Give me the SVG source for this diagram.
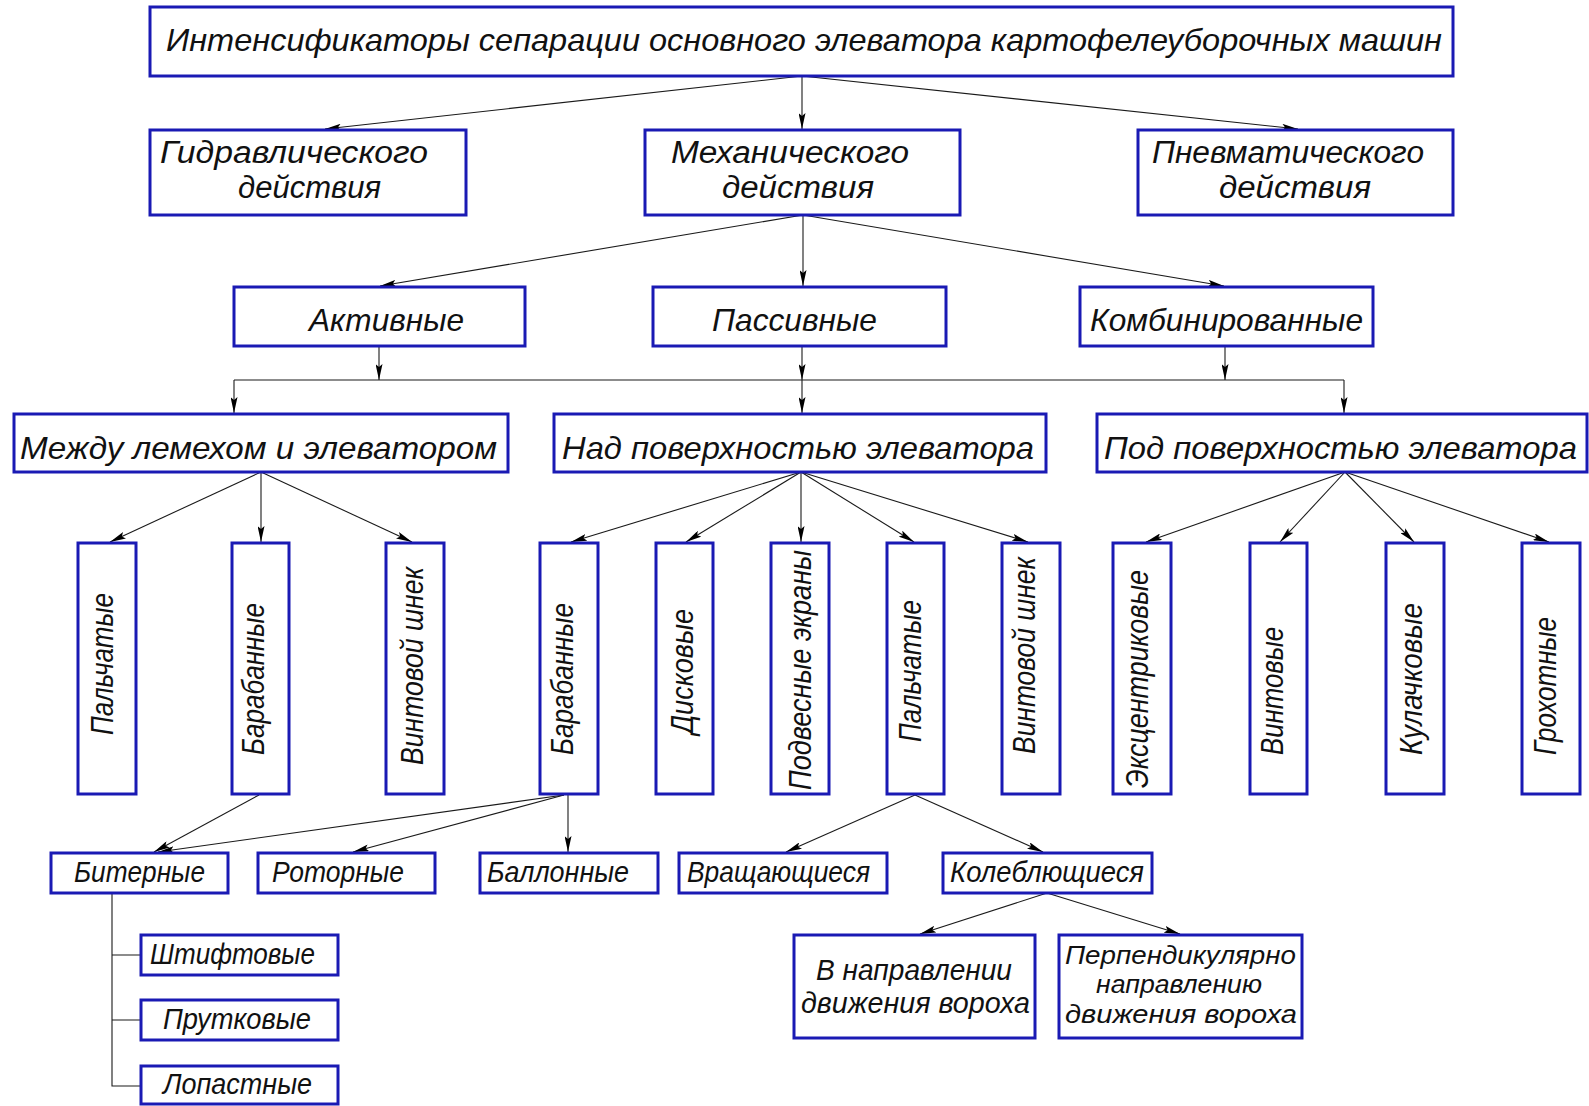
<svg xmlns="http://www.w3.org/2000/svg" width="1589" height="1106" viewBox="0 0 1589 1106">
<defs>
<style>
.box{fill:#fff;stroke:#1a1ab4;stroke-width:3}
.t{font-family:"Liberation Sans","DejaVu Sans",sans-serif;font-style:italic;font-weight:normal;fill:#111;font-size:32px}
.m{font-size:31px}
.s{font-size:29px}
.xs{font-size:25px}
.c line,.c path{stroke:#1a1a1a;stroke-width:1.1;fill:none}
.a{marker-end:url(#ah)}
</style>
<marker id="ah" markerUnits="userSpaceOnUse" markerWidth="17" markerHeight="7" refX="16" refY="3.5" orient="auto">
<path d="M0,0 L16,3.5 L0,7 L3,3.5 z" fill="#000"/>
</marker>
</defs>
<rect width="1589" height="1106" fill="#fff"/>

<g class="c">
<line class="a" x1="802" y1="76" x2="325" y2="129"/>
<line class="a" x1="802" y1="76" x2="802" y2="129"/>
<line class="a" x1="802" y1="76" x2="1298" y2="129"/>
<line class="a" x1="803" y1="215" x2="380" y2="286"/>
<line class="a" x1="803" y1="215" x2="803" y2="286"/>
<line class="a" x1="803" y1="215" x2="1224" y2="286"/>
<line class="a" x1="379" y1="346" x2="379" y2="380"/>
<line class="a" x1="802" y1="346" x2="802" y2="380"/>
<line class="a" x1="1225" y1="346" x2="1225" y2="380"/>
<line x1="234" y1="380" x2="1344" y2="380"/>
<line class="a" x1="234" y1="380" x2="234" y2="413"/>
<line class="a" x1="802" y1="380" x2="802" y2="413"/>
<line class="a" x1="1344" y1="380" x2="1344" y2="413"/>
<line class="a" x1="261" y1="472" x2="110" y2="542"/>
<line class="a" x1="261" y1="472" x2="261" y2="542"/>
<line class="a" x1="261" y1="472" x2="412" y2="542"/>
<line class="a" x1="801" y1="472" x2="571" y2="542"/>
<line class="a" x1="801" y1="472" x2="686" y2="542"/>
<line class="a" x1="801" y1="472" x2="801" y2="542"/>
<line class="a" x1="801" y1="472" x2="914" y2="542"/>
<line class="a" x1="801" y1="472" x2="1028" y2="542"/>
<line class="a" x1="1345" y1="472" x2="1146" y2="542"/>
<line class="a" x1="1345" y1="472" x2="1280" y2="542"/>
<line class="a" x1="1345" y1="472" x2="1414" y2="542"/>
<line class="a" x1="1345" y1="472" x2="1549" y2="542"/>
<line class="a" x1="259" y1="795" x2="154" y2="852"/>
<line class="a" x1="564" y1="795" x2="158" y2="852"/>
<line class="a" x1="564" y1="795" x2="353" y2="852"/>
<line class="a" x1="568" y1="795" x2="568" y2="852"/>
<line class="a" x1="915" y1="795" x2="786" y2="852"/>
<line class="a" x1="915" y1="795" x2="1043" y2="852"/>
<line class="a" x1="1047" y1="893" x2="920" y2="934"/>
<line class="a" x1="1047" y1="893" x2="1180" y2="934"/>
<path d="M112,893 V1086 H141 M112,955 H141 M112,1020 H141"/>
</g>

<g id="n-root"><rect class="box" x="150" y="7" width="1303" height="69"/>
<text class="t" x="166" y="51" textLength="1276" lengthAdjust="spacingAndGlyphs" font-size="33">Интенсификаторы сепарации основного элеватора картофелеуборочных машин</text></g>

<g id="n-hydr"><rect class="box" x="150" y="130" width="316" height="85"/>
<text class="t m" x="160" y="163" textLength="268" lengthAdjust="spacingAndGlyphs">Гидравлического</text>
<text class="t m" x="238" y="198" textLength="143" lengthAdjust="spacingAndGlyphs">действия</text></g>

<g id="n-mech"><rect class="box" x="645" y="130" width="315" height="85"/>
<text class="t m" x="671" y="163" textLength="238" lengthAdjust="spacingAndGlyphs">Механического</text>
<text class="t m" x="722" y="198" textLength="152" lengthAdjust="spacingAndGlyphs">действия</text></g>

<g id="n-pneu"><rect class="box" x="1138" y="130" width="315" height="85"/>
<text class="t m" x="1152" y="163" textLength="272" lengthAdjust="spacingAndGlyphs">Пневматического</text>
<text class="t m" x="1219" y="198" textLength="152" lengthAdjust="spacingAndGlyphs">действия</text></g>

<g id="n-active"><rect class="box" x="234" y="287" width="291" height="59"/>
<text class="t" x="309" y="331" textLength="155" lengthAdjust="spacingAndGlyphs">Активные</text></g>

<g id="n-passive"><rect class="box" x="653" y="287" width="293" height="59"/>
<text class="t" x="712" y="331" textLength="165" lengthAdjust="spacingAndGlyphs">Пассивные</text></g>

<g id="n-comb"><rect class="box" x="1080" y="287" width="293" height="59"/>
<text class="t" x="1090" y="331" textLength="273" lengthAdjust="spacingAndGlyphs">Комбинированные</text></g>

<g id="n-between"><rect class="box" x="14" y="414" width="494" height="58"/>
<text class="t" x="20" y="459" textLength="477" lengthAdjust="spacingAndGlyphs">Между лемехом и элеватором</text></g>

<g id="n-above"><rect class="box" x="554" y="414" width="492" height="58"/>
<text class="t" x="562" y="459" textLength="472" lengthAdjust="spacingAndGlyphs">Над поверхностью элеватора</text></g>

<g id="n-below"><rect class="box" x="1097" y="414" width="490" height="58"/>
<text class="t" x="1104" y="459" textLength="473" lengthAdjust="spacingAndGlyphs">Под поверхностью элеватора</text></g>

<g id="n-v1"><rect class="box" x="78" y="543" width="58" height="251"/>
<text class="t" transform="translate(102,664) rotate(-90)" x="-71" y="11" textLength="142" lengthAdjust="spacingAndGlyphs">Пальчатые</text></g>
<g id="n-v2"><rect class="box" x="232" y="543" width="57" height="251"/>
<text class="t" transform="translate(253,679) rotate(-90)" x="-76" y="11" textLength="152" lengthAdjust="spacingAndGlyphs">Барабанные</text></g>
<g id="n-v3"><rect class="box" x="386" y="543" width="58" height="251"/>
<text class="t" transform="translate(412,666) rotate(-90)" x="-99" y="11" textLength="198" lengthAdjust="spacingAndGlyphs">Винтовой шнек</text></g>
<g id="n-v4"><rect class="box" x="540" y="543" width="58" height="251"/>
<text class="t" transform="translate(562,679) rotate(-90)" x="-76" y="11" textLength="152" lengthAdjust="spacingAndGlyphs">Барабанные</text></g>
<g id="n-v5"><rect class="box" x="656" y="543" width="57" height="251"/>
<text class="t" transform="translate(682,672) rotate(-90)" x="-62" y="11" textLength="125" lengthAdjust="spacingAndGlyphs">Дисковые</text></g>
<g id="n-v6"><rect class="box" x="771" y="543" width="58" height="251"/>
<text class="t" transform="translate(800,670) rotate(-90)" x="-120" y="11" textLength="240" lengthAdjust="spacingAndGlyphs">Подвесные экраны</text></g>
<g id="n-v7"><rect class="box" x="887" y="543" width="57" height="251"/>
<text class="t" transform="translate(910,671) rotate(-90)" x="-71" y="11" textLength="142" lengthAdjust="spacingAndGlyphs">Пальчатые</text></g>
<g id="n-v8"><rect class="box" x="1002" y="543" width="58" height="251"/>
<text class="t" transform="translate(1024,656) rotate(-90)" x="-98" y="11" textLength="197" lengthAdjust="spacingAndGlyphs">Винтовой шнек</text></g>
<g id="n-v9"><rect class="box" x="1113" y="543" width="58" height="251"/>
<text class="t" transform="translate(1137,679) rotate(-90)" x="-109" y="11" textLength="218" lengthAdjust="spacingAndGlyphs">Эксцентриковые</text></g>
<g id="n-v10"><rect class="box" x="1250" y="543" width="57" height="251"/>
<text class="t" transform="translate(1272,691) rotate(-90)" x="-64" y="11" textLength="128" lengthAdjust="spacingAndGlyphs">Винтовые</text></g>
<g id="n-v11"><rect class="box" x="1386" y="543" width="58" height="251"/>
<text class="t" transform="translate(1411,679) rotate(-90)" x="-76" y="11" textLength="152" lengthAdjust="spacingAndGlyphs">Кулачковые</text></g>
<g id="n-v12"><rect class="box" x="1522" y="543" width="58" height="251"/>
<text class="t" transform="translate(1545,686) rotate(-90)" x="-69" y="11" textLength="138" lengthAdjust="spacingAndGlyphs">Грохотные</text></g>

<g id="n-biter"><rect class="box" x="51" y="853" width="177" height="40"/>
<text class="t s" x="74" y="882" textLength="131" lengthAdjust="spacingAndGlyphs">Битерные</text></g>
<g id="n-rotor"><rect class="box" x="258" y="853" width="177" height="40"/>
<text class="t s" x="272" y="882" textLength="132" lengthAdjust="spacingAndGlyphs">Роторные</text></g>
<g id="n-ballon"><rect class="box" x="480" y="853" width="178" height="40"/>
<text class="t s" x="487" y="882" textLength="142" lengthAdjust="spacingAndGlyphs">Баллонные</text></g>
<g id="n-rot"><rect class="box" x="679" y="853" width="208" height="40"/>
<text class="t s" x="687" y="882" textLength="183" lengthAdjust="spacingAndGlyphs">Вращающиеся</text></g>
<g id="n-osc"><rect class="box" x="943" y="853" width="209" height="40"/>
<text class="t s" x="950" y="882" textLength="194" lengthAdjust="spacingAndGlyphs">Колеблющиеся</text></g>

<g id="n-pin"><rect class="box" x="141" y="935" width="197" height="40"/>
<text class="t s" x="150" y="964" textLength="165" lengthAdjust="spacingAndGlyphs">Штифтовые</text></g>
<g id="n-rod"><rect class="box" x="141" y="1000" width="197" height="40"/>
<text class="t s" x="163" y="1029" textLength="148" lengthAdjust="spacingAndGlyphs">Прутковые</text></g>
<g id="n-blade"><rect class="box" x="141" y="1066" width="197" height="38"/>
<text class="t s" x="163" y="1094" textLength="149" lengthAdjust="spacingAndGlyphs">Лопастные</text></g>

<g id="n-dir"><rect class="box" x="794" y="935" width="241" height="103"/>
<text class="t s" x="816" y="980" textLength="196" lengthAdjust="spacingAndGlyphs">В направлении</text>
<text class="t s" x="801" y="1013" textLength="229" lengthAdjust="spacingAndGlyphs">движения вороха</text></g>
<g id="n-perp"><rect class="box" x="1059" y="935" width="243" height="103"/>
<text class="t xs" x="1065" y="964" textLength="231" lengthAdjust="spacingAndGlyphs">Перпендикулярно</text>
<text class="t xs" x="1096" y="993" textLength="166" lengthAdjust="spacingAndGlyphs">направлению</text>
<text class="t xs" x="1065" y="1023" textLength="232" lengthAdjust="spacingAndGlyphs">движения вороха</text></g>
</svg>
